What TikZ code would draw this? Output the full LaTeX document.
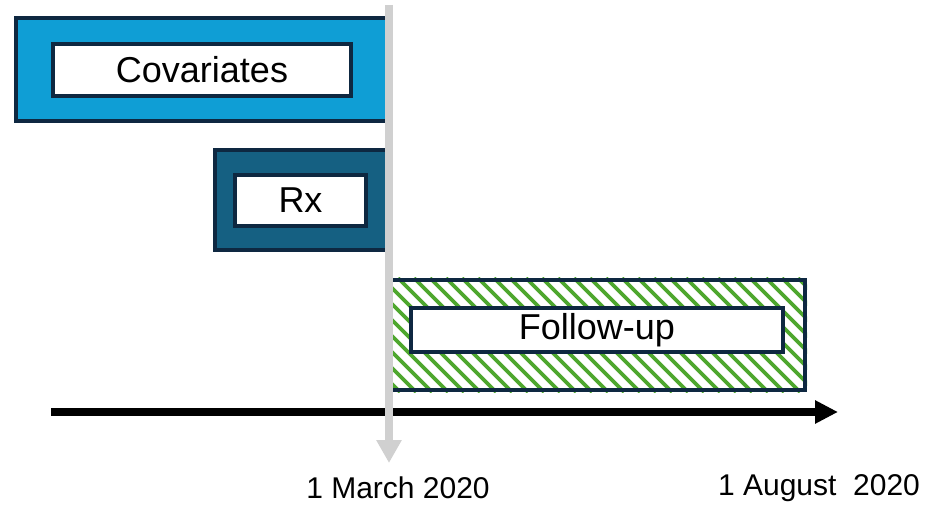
\documentclass[tikz,border=0pt]{standalone}
\usepackage{fontspec}
\setmainfont{Liberation Sans}
\usetikzlibrary{arrows.meta}
\definecolor{covblue}{HTML}{0F9ED5}
\definecolor{rxblue}{HTML}{156082}
\definecolor{darkline}{HTML}{0E2841}
\definecolor{stripegreen}{HTML}{4EA72E}
\definecolor{markgray}{HTML}{D0D0D0}
\tikzset{
  outerbox/.style={draw=darkline, line width=4pt, rectangle, inner sep=0pt},
  innerbox/.style={draw=darkline, fill=white, line width=4pt, rectangle, inner sep=0pt,
    font=\fontsize{36}{40}\selectfont},
  datelabel/.style={inner sep=0pt, font=\fontsize{30}{36}\selectfont},
  timeline/.style={line width=8pt, -{Triangle[length=23pt,width=22pt]}},
  marker/.style={draw=markgray, line width=8pt, -{Triangle[length=23pt,width=24pt]}}
}
\begin{document}
\begin{tikzpicture}[x=1pt,y=-1pt]
\useasboundingbox (0,0) rectangle (927,505);
% Covariates
\node[outerbox, fill=covblue, minimum width=374pt, minimum height=103pt] (covout) at (203,69.5) {};
\node[innerbox, minimum width=298pt, minimum height=52pt] (cov) at (202,70) {Covariates};
% Rx
\node[outerbox, fill=rxblue, minimum width=175pt, minimum height=100pt] (rxout) at (302.5,200) {};
\node[innerbox, minimum width=131pt, minimum height=51pt] (rx) at (300.5,200.5) {Rx};
% Follow-up
\node[outerbox, draw=none, fill=white, minimum width=414pt, minimum height=110pt] (fuout) at (598,335) {};
\begin{scope}
  \clip (fuout.south west) rectangle (fuout.north east);
  \foreach \x in {270,286,...,810} {
    \draw[stripegreen, line width=3.8pt] (\x,278) -- (\x+114,392);
  }
\end{scope}
\node[outerbox, minimum width=414pt, minimum height=110pt] at (598,335) {};
\node[innerbox, minimum width=372pt, minimum height=44pt] (fu) at (597,330) {Follow-up};
% timeline
\coordinate (tstart) at (51,412);
\coordinate (tend) at (838,412);
\draw[timeline] (tstart) -- (tend);
% marker line
\coordinate (mtop) at (389,5);
\coordinate (mbot) at (389,463);
\draw[marker] (mtop) -- (mbot);
% dates
\node[datelabel] (d1) at (398,488) {1 March 2020};
\node[datelabel] (d2) at (819,488) {1 August\ \ 2020};
\end{tikzpicture}
\end{document}
